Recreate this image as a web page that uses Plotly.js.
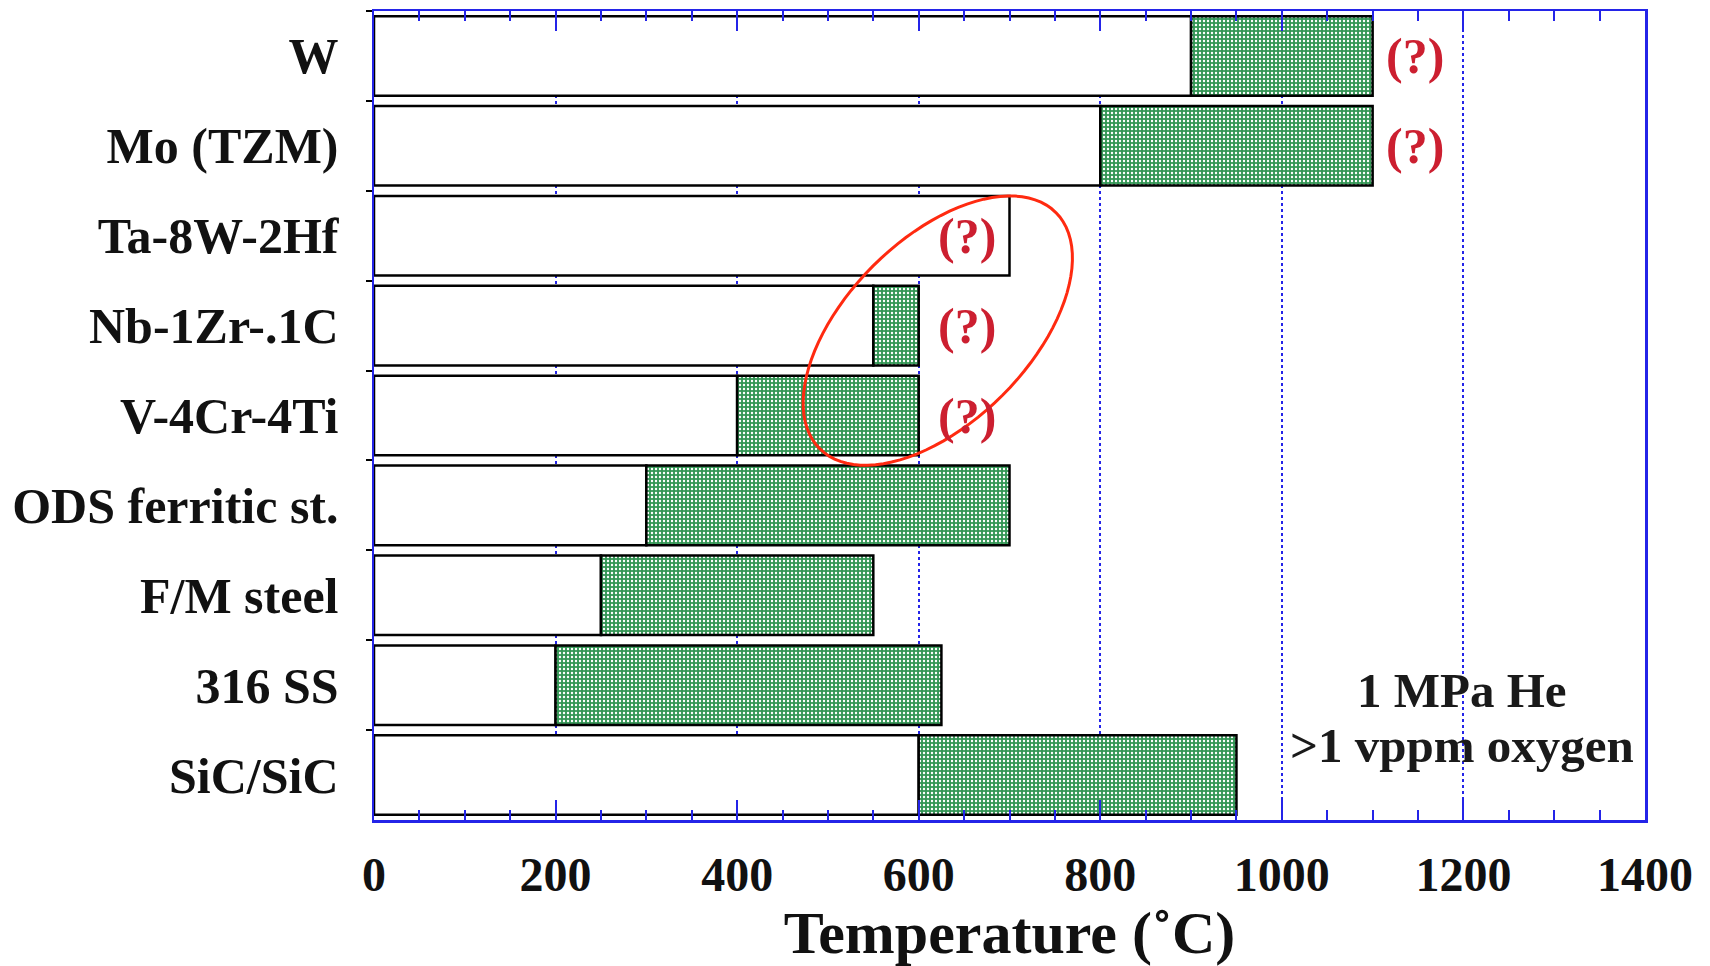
<!DOCTYPE html>
<html><head><meta charset="utf-8">
<script src="https://cdn.plot.ly/plotly-3.0.1.min.js"></script>
<style>html,body{margin:0;padding:0;background:#fff;}#chart{width:1710px;height:966px;}</style>
</head><body><div id="chart"></div>
<script>
// ---- data ----
const materials = ['W','Mo (TZM)','Ta-8W-2Hf','Nb-1Zr-.1C','V-4Cr-4Ti','ODS ferritic st.','F/M steel','316 SS','SiC/SiC'];
const lowerLimit = [900, 800, 700, 550, 400, 300, 250, 200, 600];     // °C, end of white bar / start of window
const upperLimit = [1100, 1100, null, 600, 600, 700, 550, 625, 950];  // °C, end of operating window
const questionCats = ['W','Mo (TZM)','Ta-8W-2Hf','Nb-1Zr-.1C','V-4Cr-4Ti'];
const questionX = [1147, 1147, 653, 653, 653];
const xTickVals = [0, 200, 400, 600, 800, 1000, 1200, 1400];
const xTickText = ['0','200','400','600','800','1000','1200','1400'];
const noteLines = ['1 MPa He', '>1 vppm oxygen'];

// ---- styles ----
const BLUE = '#2424e8';
const FONT = 'Liberation Serif, Times New Roman, serif';
const windowWidth = lowerLimit.map((lo, i) => upperLimit[i] == null ? null : upperLimit[i] - lo);

const whiteBars = {
  type: 'bar', orientation: 'h', y: materials, x: lowerLimit, base: 0,
  width: 0.885,
  marker: {color: '#ffffff', line: {color: '#000000', width: 2.5}},
  hoverinfo: 'skip', showlegend: false
};
const greenBars = {
  type: 'bar', orientation: 'h', y: materials, x: windowWidth, base: lowerLimit,
  width: 0.885,
  marker: {
    color: '#339655',
    pattern: {shape: '.', fgcolor: '#ffffff', bgcolor: '#339655', size: 4, solidity: 0.28, fillmode: 'replace'},
    line: {color: '#000000', width: 2.5}
  },
  hoverinfo: 'skip', showlegend: false
};

// tilted ellipse (highlight), in pixels relative to an anchor
function ellipsePath(a, b, thetaDeg, cx, cy, n) {
  const th = thetaDeg * Math.PI / 180;
  let p = '';
  for (let k = 0; k <= n; k++) {
    const t = 2 * Math.PI * k / n;
    const x = cx + a * Math.cos(t) * Math.cos(th) - b * Math.sin(t) * Math.sin(th);
    const y = cy + a * Math.cos(t) * Math.sin(th) + b * Math.sin(t) * Math.cos(th);
    p += (k === 0 ? 'M' : 'L') + x.toFixed(2) + ',' + y.toFixed(2);
  }
  return p + 'Z';
}

const annotations = questionCats.map((c, i) => ({
  x: questionX[i], y: c, xref: 'x', yref: 'y', text: '(?)', showarrow: false,
  font: {family: FONT, size: 50, color: '#cc1f30', weight: 'bold'}
}));
annotations.push({x: 1198, y: 0.123, xref: 'x', yref: 'paper', text: noteLines[0], showarrow: false,
  font: {family: FONT, size: 49, color: '#1a1a1a', weight: 'bold'}});
annotations.push({x: 1198, y: 0.056, xref: 'x', yref: 'paper', text: noteLines[1], showarrow: false,
  font: {family: FONT, size: 49, color: '#1a1a1a', weight: 'bold'}});

const layout = {
  width: 1710, height: 966,
  margin: {l: 374, r: 65, t: 11, b: 146},
  paper_bgcolor: '#ffffff', plot_bgcolor: '#ffffff',
  barmode: 'overlay',
  xaxis: {
    range: [0, 1400], tickvals: xTickVals, ticktext: xTickText,
    ticks: 'inside', ticklen: 20, tickwidth: 2, tickcolor: BLUE,
    minor: {dtick: 50, ticks: 'inside', ticklen: 10, tickwidth: 2, tickcolor: BLUE, showgrid: false},
    showline: true, linecolor: BLUE, linewidth: 2.5, mirror: 'allticks',
    showgrid: true, gridcolor: BLUE, griddash: 'dot', gridwidth: 2,
    zeroline: false, ticklabelstandoff: 11,
    tickfont: {family: FONT, size: 48, color: '#111111', weight: 'bold'},
    title: {text: 'Temperature (˚C)', standoff: 14, font: {family: FONT, size: 60, color: '#111111', weight: 'bold'}},
    fixedrange: true
  },
  yaxis: {
    type: 'category', categoryorder: 'array', categoryarray: materials, autorange: 'reversed',
    showline: true, linecolor: BLUE, linewidth: 2.5, mirror: true,
    ticks: 'outside', tickson: 'boundaries', ticklen: 6, tickwidth: 2, tickcolor: '#000000',
    showgrid: false, zeroline: false, ticklabelstandoff: 23,
    tickfont: {family: FONT, size: 50, color: '#111111', weight: 'bold'},
    fixedrange: true
  },
  annotations: annotations,
  shapes: [{
    type: 'path', xref: 'x', yref: 'y', xsizemode: 'pixel', ysizemode: 'pixel',
    xanchor: 621, yanchor: 'Nb-1Zr-.1C',
    path: ellipsePath(167, 91.5, 45, 0, -5, 96),
    line: {color: '#ff2a10', width: 3}, fillcolor: 'rgba(0,0,0,0)', layer: 'above'
  }]
};

Plotly.newPlot('chart', [whiteBars, greenBars], layout, {displayModeBar: false, staticPlot: true});
</script>
</body></html>
